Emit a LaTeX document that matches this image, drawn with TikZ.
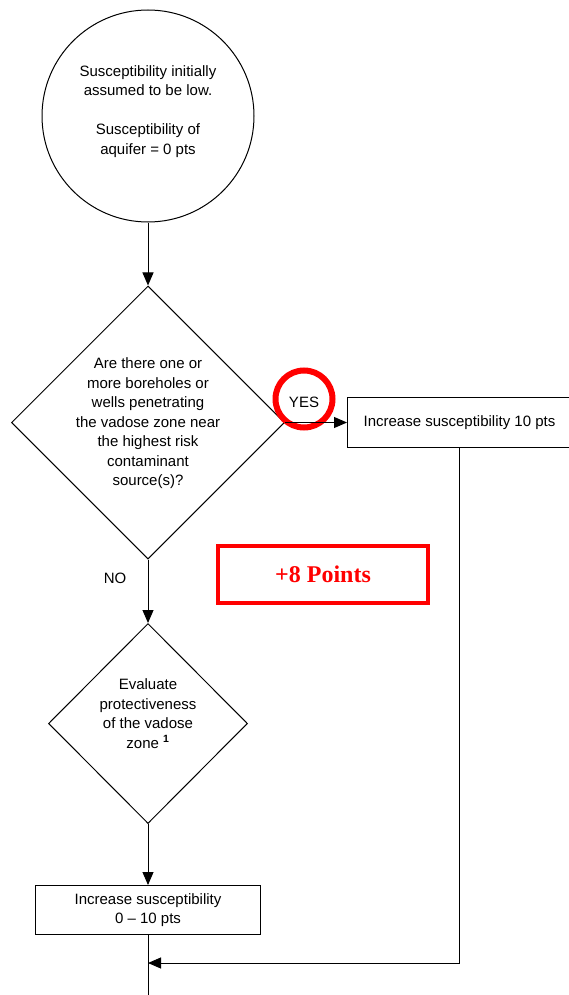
\documentclass[tikz,border=0pt]{standalone}
\usepackage{fontspec}
\setmainfont{Liberation Sans}
\newfontfamily\pointsfont{Liberation Serif}
\usetikzlibrary{shapes, arrows.meta, positioning}

\begin{document}
\begin{tikzpicture}[
        x=1pt, y=1pt,
        node distance=62pt,
        every node/.style={font=\fontsize{15}{19.5}\selectfont},
        startcircle/.style={circle, draw=black, line width=1pt, align=center, inner sep=0pt, minimum size=212pt, text depth=12pt},
        decision/.style={diamond, draw=black, line width=1pt, align=center, inner sep=0pt},
        box/.style={rectangle, draw=black, line width=1pt, align=center, minimum height=50pt},
        answer/.style={inner sep=1pt},
        ring/.style={circle, draw=red, line width=6pt, minimum size=57pt, inner sep=0pt},
        pointsbox/.style={rectangle, draw=red, line width=4pt, text=red, minimum width=210pt, minimum height=57pt, font=\pointsfont\bfseries\fontsize{24}{28}\selectfont},
        arrow/.style={-{Triangle[length=13pt, width=11pt]}, line width=1pt, color=black}
    ]
        \useasboundingbox (0,0) rectangle (568,-995);

        \node[startcircle] (start) at (148,-116) {Susceptibility initially\\ assumed to be low.\\[19.5pt] Susceptibility of\\ aquifer = 0 pts};
        \node[decision, minimum width=273pt, minimum height=273pt, inner sep=-0.3pt, text depth=1pt, below=63pt of start] (boreholes) {Are there one or\\ more boreholes or\\ wells penetrating\\ the vadose zone near\\ the highest risk\\ contaminant\\ source(s)?};
        \node[box, minimum width=224pt, right=62pt of boreholes] (incr10) {Increase susceptibility 10 pts};
        \node[decision, minimum width=199pt, minimum height=200pt, text depth=20pt, below=63.5pt of boreholes] (evaluate) {Evaluate\\ protectiveness\\ of the vadose\\ zone $^{\mathbf{1}}$};
        \node[box, minimum width=225pt, minimum height=49pt, below=61pt of evaluate] (incr0) {Increase susceptibility\\ 0 -- 10 pts};

        \node[answer] (yes) at (304,-402) {YES};
        \node[ring] (yesring) at (304,-399) {};
        \node[answer] (no) at (115,-578) {NO};
        \node[pointsbox] (points) at (323,-574.5) {+8 Points};

        \coordinate (merge) at (148,-963);
        \coordinate (exit) at (148,-995);

        % Arrows
        \draw[arrow] (start) -- (boreholes);
        \draw[arrow] (boreholes.east) -- (incr10);
        \draw[arrow] (boreholes) -- (evaluate);
        \draw[arrow] (evaluate) -- (incr0);
        \draw[line width=1pt] (incr0) -- (exit);

        % Return arrow
        \draw[arrow] (incr10.south) |- (merge);

    \end{tikzpicture}
\end{document}
